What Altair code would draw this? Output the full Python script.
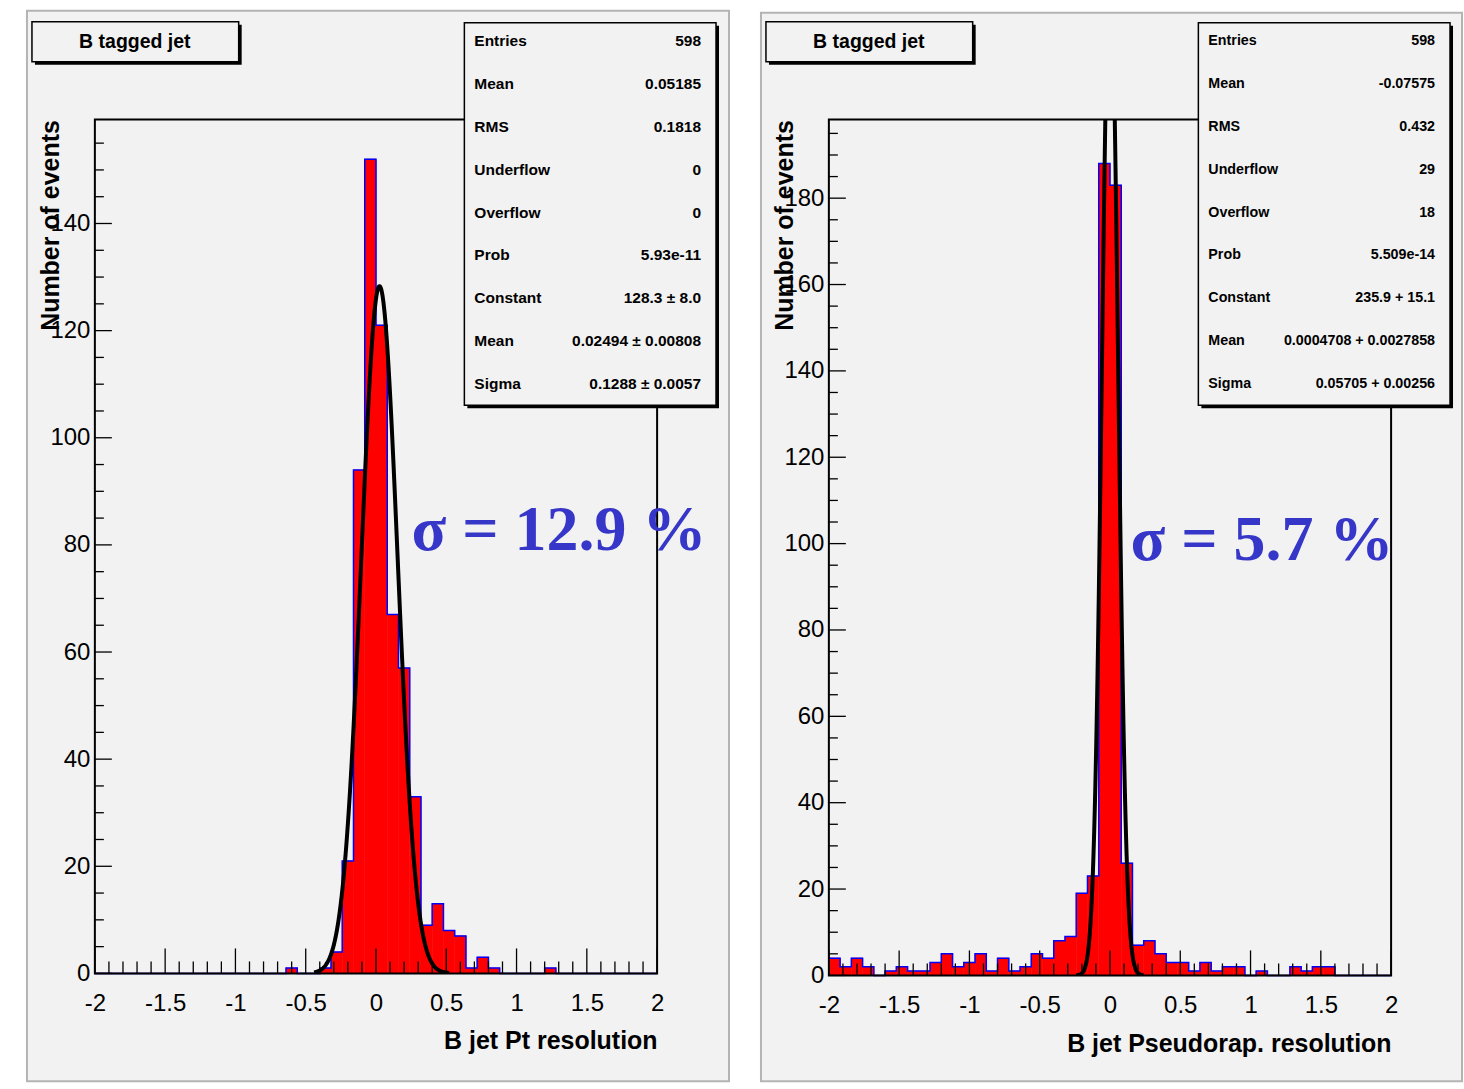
import altair as alt
import numpy as np
import pandas as pd

# ---------------- data ----------------
BIN_LO = -2.0
BIN_W = 0.08
NBINS = 50

pt_counts = [0, 0, 0, 0, 0, 0, 0, 0, 0, 0,
             0, 0, 0, 0, 0, 0, 0, 1, 0, 0,
             1, 4, 21, 94, 152, 121, 67, 57, 33, 9,
             13, 8, 7, 1, 3, 1, 0, 0, 0, 0,
             1, 0, 0, 0, 0, 0, 0, 0, 0, 0]

eta_counts = [4, 2, 4, 2, 0, 1, 2, 1, 1, 3,
              5, 2, 3, 5, 1, 4, 1, 2, 5, 4,
              8, 9, 19, 23, 188, 183, 26, 7, 8, 5,
              3, 3, 1, 3, 1, 2, 2, 0, 1, 0,
              0, 2, 1, 2, 2, 0, 0, 0, 0, 0]

stat_labels = ["Entries", "Mean", "RMS", "Underflow", "Overflow", "Prob",
               "Constant", "Mean", "Sigma"]
pt_stat_values = ["598", "0.05185", "0.1818", "0", "0", "5.93e-11",
                  "128.3 ± 8.0", "0.02494 ± 0.00808", "0.1288 ± 0.0057"]
eta_stat_values = ["598", "-0.07575", "0.432", "29", "18", "5.509e-14",
                   "235.9 + 15.1", "0.0004708 + 0.0027858", "0.05705 + 0.00256"]

pt_fit = {"const": 128.3, "mean": 0.02494, "sigma": 0.1288, "lo": -0.44, "hi": 0.52}
eta_fit = {"const": 235.9, "mean": 0.0004708, "sigma": 0.05705, "lo": -0.24, "hi": 0.24}

x_tick_values = [-2, -1.5, -1, -0.5, 0, 0.5, 1, 1.5, 2]
pt_y_ticks = [0, 20, 40, 60, 80, 100, 120, 140]
eta_y_ticks = [0, 20, 40, 60, 80, 100, 120, 140, 160, 180]

panel_title = "B tagged jet"
pt_xtitle = "B jet Pt resolution"
eta_xtitle = "B jet Pseudorap. resolution"
ytitle = "Number of events"
pt_sigma_text = "σ = 12.9 %"
eta_sigma_text = "σ = 5.7 %"

# ---------------- styling ----------------
SANS = "Liberation Sans"
SERIF = "Liberation Serif"
W = 563
ONE = pd.DataFrame({"k": [0]})
SIGMA_BLUE = "#3636c8"
PANEL_FILL = "#f2f2f2"


def box(x1, x2, y1, y2, **kw):
    return alt.Chart(ONE).mark_rect(**kw).encode(
        x=alt.value(x1), x2=alt.value(x2), y=alt.value(y1), y2=alt.value(y2))


def label(text, x, y, **kw):
    return alt.Chart(ONE).mark_text(**kw).encode(
        x=alt.value(x), y=alt.value(y), text=alt.value(text))


def panel(counts, stat_values, fit, y_ticks, ymax, H, stat_size,
          sigma_text, sigma_x, sigma_y, x_title, xtitle_y, frame_y1, frame_x2):
    edges = [BIN_LO + BIN_W * k for k in range(NBINS + 1)]
    hist = pd.DataFrame({"x": edges[:-1], "x2": edges[1:], "y": counts})
    step = pd.DataFrame({"x": edges, "y": list(counts) + [counts[-1]]})
    xs = np.linspace(fit["lo"], fit["hi"], 400)
    curve = pd.DataFrame({
        "x": xs,
        "y": fit["const"] * np.exp(-0.5 * ((xs - fit["mean"]) / fit["sigma"]) ** 2)})

    xsc = alt.Scale(domain=[-2, 2], nice=False, zero=False)
    ysc = alt.Scale(domain=[0, ymax], nice=False, zero=False)

    xaxis = alt.Axis(values=x_tick_values, labelExpr="'' + datum.value",
                     domain=False, ticks=False, tickSize=0, grid=False, zindex=2,
                     labelPadding=18, labelFontSize=24, labelFont=SANS,
                     labelColor="black", labelFlush=False, labelOverlap=False,
                     title=x_title, titleFont=SANS, titleFontSize=25,
                     titleFontWeight="bold", titleColor="black",
                     titleAnchor="end", titleAlign="right",
                     titleBaseline="middle", titleX=W, titleY=xtitle_y)
    yaxis = alt.Axis(values=y_ticks, labelExpr="'' + datum.value",
                     domain=False, ticks=False, tickSize=0, grid=False, zindex=2,
                     labelPadding=5, labelFontSize=24, labelFont=SANS,
                     labelColor="black", labelFlush=False, labelOverlap=False,
                     title=ytitle, titleFont=SANS, titleFontSize=25,
                     titleFontWeight="bold", titleColor="black",
                     titleAngle=270, titleAlign="right",
                     titleBaseline="alphabetic", titleX=-36, titleY=0)

    layers = []
    # pad background
    layers.append(box(-68, frame_x2, frame_y1, 963, fill=PANEL_FILL,
                      stroke="#b4b4b4", strokeWidth=2))
    # histogram bars
    layers.append(alt.Chart(hist).mark_rect(
        color="#ff0000", stroke="#ff0000", strokeWidth=0.6).encode(
        x=alt.X("x:Q", scale=xsc, axis=xaxis),
        x2="x2:Q",
        y=alt.Y("y:Q", scale=ysc, axis=yaxis),
        y2=alt.datum(0)))
    # histogram outline
    layers.append(alt.Chart(step).mark_line(
        interpolate="step-after", color="#0000ff", strokeWidth=1.5).encode(
        x=alt.X("x:Q", scale=xsc, axis=xaxis), y=alt.Y("y:Q", scale=ysc, axis=yaxis)))
    # gaussian fit
    layers.append(alt.Chart(curve).mark_line(
        color="black", strokeWidth=4, clip=True, strokeJoin="round").encode(
        x=alt.X("x:Q", scale=xsc, axis=xaxis), y=alt.Y("y:Q", scale=ysc, axis=yaxis)))

    # inward ticks
    x_major = pd.DataFrame({"x": x_tick_values})
    x_minor_vals = [round(v, 2) for v in np.arange(-2, 2.0001, 0.1)
                    if abs(v * 2 - round(v * 2)) > 1e-6]
    x_minor = pd.DataFrame({"x": x_minor_vals})
    layers.append(alt.Chart(x_major).mark_rule(color="black", strokeWidth=1.3).encode(
        x=alt.X("x:Q", scale=xsc, axis=xaxis), y=alt.value(H), y2=alt.value(H - 25)))
    layers.append(alt.Chart(x_minor).mark_rule(color="black", strokeWidth=1.3).encode(
        x=alt.X("x:Q", scale=xsc, axis=xaxis), y=alt.value(H), y2=alt.value(H - 12)))
    y_major = pd.DataFrame({"y": y_ticks})
    y_minor = pd.DataFrame({"y": [v for v in range(5, int(ymax) + 1, 5) if v % 20]})
    layers.append(alt.Chart(y_major).mark_rule(color="black", strokeWidth=1.3).encode(
        y=alt.Y("y:Q", scale=ysc, axis=yaxis), x=alt.value(0), x2=alt.value(17)))
    layers.append(alt.Chart(y_minor).mark_rule(color="black", strokeWidth=1.3).encode(
        y=alt.Y("y:Q", scale=ysc, axis=yaxis), x=alt.value(0), x2=alt.value(9)))

    # plot frame
    layers.append(box(0, W, 0, H, fill="transparent", stroke="black", strokeWidth=2))

    # title box
    layers.append(box(-60, 147, -95, -55, fill="black"))
    layers.append(box(-63, 144, -98, -58, fill=PANEL_FILL, stroke="black", strokeWidth=1.5))
    layers.append(label(panel_title, 40, -78, font=SANS, fontSize=19.5,
                        fontWeight="bold", align="center", baseline="middle",
                        color="black"))

    # stats box
    layers.append(box(373, 625, -94, 289, fill="black"))
    layers.append(box(370, 622, -97, 286, fill=PANEL_FILL, stroke="black", strokeWidth=1.5))
    for i, (lab, val) in enumerate(zip(stat_labels, stat_values)):
        yy = -78.5 + 42.9 * i
        layers.append(label(lab, 380, yy, font=SANS, fontSize=stat_size,
                            fontWeight="bold", align="left", baseline="middle",
                            color="black"))
        layers.append(label(val, 607, yy, font=SANS, fontSize=stat_size,
                            fontWeight="bold", align="right", baseline="middle",
                            color="black"))

    # sigma annotation
    layers.append(label(sigma_text, sigma_x, sigma_y, font=SERIF, fontSize=64,
                        fontWeight="bold", align="left", baseline="alphabetic",
                        color=SIGMA_BLUE))

    return alt.layer(*layers).properties(width=W, height=H)


left = panel(pt_counts, pt_stat_values, pt_fit, pt_y_ticks, 159.4, 855, 15.5,
             pt_sigma_text, 317, 431, pt_xtitle, 67, -109, 635)
right = panel(eta_counts, eta_stat_values, eta_fit, eta_y_ticks, 198.2, 857, 14.3,
              eta_sigma_text, 302, 441, eta_xtitle, 68, -107, 634)

chart = alt.hconcat(left, right, spacing=172, bounds="flush").configure(
    padding={"left": 25, "top": 8, "right": 0, "bottom": 0},
    background="white",
).configure_view(stroke="transparent", fill="transparent")

chart.save("out.html", embed_options={"renderer": "svg", "actions": False})
